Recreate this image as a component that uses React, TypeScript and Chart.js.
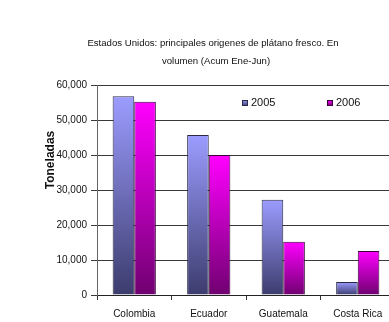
import React, { useEffect, useRef } from "react";
import { Chart, registerables } from "chart.js";

Chart.register(...registerables);

const titleLines = ["Estados Unidos: principales origenes de plátano fresco. En", "volumen (Acum Ene-Jun)"];
const categories = ["Colombia", "Ecuador", "Guatemala", "Costa Rica"];
const series2005 = [56800, 45700, 27200, 3700];
const series2006 = [55200, 40000, 15200, 12600];
const seriesLabels = ["2005", "2006"];
const yTitle = "Toneladas";
const yMax = 60000;
const yStep = 10000;

const FONT = "'Liberation Sans', Arial, sans-serif";

const colors = [
  { top: "#9c9cff", bottom: "#3c3c6e", border: "#2a2a44" },
  { top: "#ff00ff", bottom: "#700070", border: "#3a003a" },
];

function makeGradient(ctx: any, top: string, bottom: string) {
  const c = ctx.chart;
  const parsed = ctx.parsed;
  const y = c.scales?.y;
  if (!y || !parsed) return top;
  const y0 = y.getPixelForValue(parsed.y);
  const y1 = y.getPixelForValue(0);
  if (!isFinite(y0) || !isFinite(y1) || y0 === y1) return top;
  const g = c.ctx.createLinearGradient(0, y0, 0, y1);
  g.addColorStop(0, top);
  g.addColorStop(1, bottom);
  return g;
}

const overlayPlugin = {
  id: "overlay",
  afterDraw(chart: any) {
    const ctx = chart.ctx;
    ctx.save();
    ctx.fillStyle = "#111";
    ctx.font = `9.6px ${FONT}`;
    ctx.textAlign = "center";
    ctx.textBaseline = "middle";
    ctx.fillText(titleLines[0], 213, 43);
    ctx.fillText(titleLines[1], 216, 61);
    ctx.save();
    ctx.translate(51, 160);
    ctx.rotate(-Math.PI / 2);
    ctx.font = `bold 12px ${FONT}`;
    ctx.fillStyle = "#111";
    ctx.fillText(yTitle, 0, 0);
    ctx.restore();
    const legendX = [242, 327];
    chart.data.datasets.forEach((ds: any, i: number) => {
      const x = legendX[i];
      const yc = 103;
      const g = ctx.createLinearGradient(0, yc - 3, 0, yc + 3);
      g.addColorStop(0, colors[i].top);
      g.addColorStop(1, colors[i].bottom);
      ctx.fillStyle = g;
      ctx.fillRect(x, yc - 3, 6, 6);
      ctx.strokeStyle = colors[i].border;
      ctx.lineWidth = 1;
      ctx.strokeRect(x + 0.5, yc - 2.5, 5, 5);
      ctx.fillStyle = "#111";
      ctx.font = `11px ${FONT}`;
      ctx.textAlign = "left";
      ctx.textBaseline = "middle";
      ctx.fillText(ds.label, x + 9, yc);
    });
    ctx.restore();
  },
};

export default function App() {
  const ref = useRef<HTMLCanvasElement>(null);
  useEffect(() => {
    if (!ref.current) return;
    const chart = new Chart(ref.current, {
      type: "bar",
      data: {
        labels: categories,
        datasets: [series2005, series2006].map((d, i) => ({
          label: seriesLabels[i],
          data: d,
          backgroundColor: (ctx: any) => makeGradient(ctx, colors[i].top, colors[i].bottom),
          borderColor: colors[i].border,
          borderWidth: 1,
          categoryPercentage: 0.58,
          barPercentage: 1,
        })),
      },
      options: {
        responsive: false,
        animation: false,
        devicePixelRatio: 1,
        layout: { padding: { top: 85, right: 5, bottom: 0, left: 0 } },
        plugins: {
          legend: { display: false },
          title: { display: false },
          tooltip: { enabled: false },
        },
        scales: {
          x: {
            afterFit: (s: any) => {
              s.height = 27;
            },
            grid: {
              drawOnChartArea: false,
              tickLength: 5,
              color: "#333",
              offset: true,
            },
            border: { color: "#222", width: 1 },
            ticks: { color: "#111", font: { family: FONT, size: 10 }, padding: 8 },
          },
          y: {
            min: 0,
            max: yMax,
            afterFit: (s: any) => {
              s.width = 97;
            },
            grid: {
              color: "#3a3a3a",
              tickLength: 6,
            },
            border: { color: "#666", width: 1 },
            ticks: {
              stepSize: yStep,
              color: "#111",
              font: { family: FONT, size: 10 },
              padding: 4,
              callback: (v: any) => Number(v).toLocaleString("en-US"),
            },
          },
        },
      },
      plugins: [overlayPlugin],
    });
    return () => chart.destroy();
  }, []);
  return (
    <div style={{ position: "fixed", left: 0, top: 0, width: 389, height: 322, overflow: "hidden", background: "#fff" }}>
      <canvas ref={ref} width={400} height={322} style={{ display: "block" }} />
    </div>
  );
}
